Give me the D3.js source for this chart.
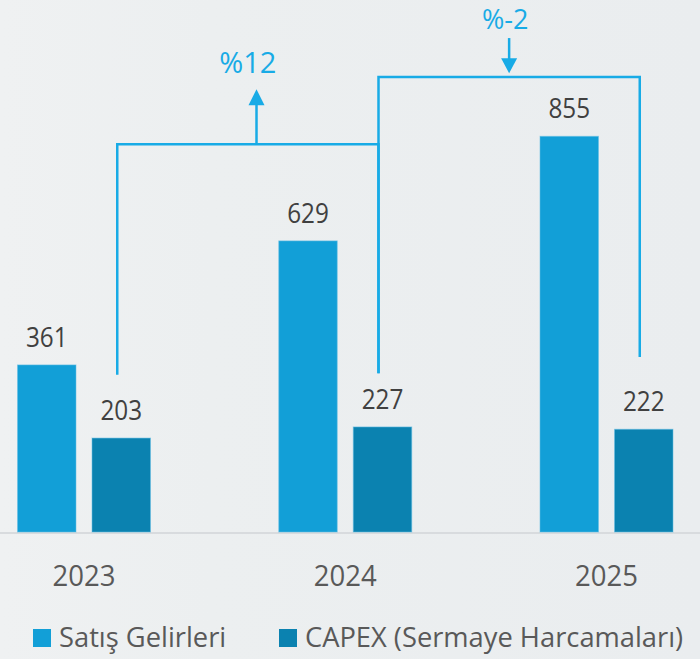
<!DOCTYPE html>
<html>
<head>
<meta charset="utf-8">
<script src="https://cdn.jsdelivr.net/npm/d3@7"></script>
<style>
  html, body { margin: 0; padding: 0; background: #eceff1; }
  svg { display: block; }
  text { font-family: "Segoe UI", "Open Sans", "Noto Sans", sans-serif; }
</style>
</head>
<body>
<svg id="chart" width="700" height="659"></svg>
<script>
// Years on the category axis
const years = ["2023", "2024", "2025"];
// Series
const seriesNames = ["Satış Gelirleri", "CAPEX (Sermaye Harcamaları)"];
const salesRevenue = [361, 629, 855];
const capex = [203, 227, 222];
const seriesColors = ["#129fd7", "#0b82b0"];

// CAPEX growth brackets: from year, to year, bracket top level and foot levels (value units)
const growthFrom = ["2023", "2024"];
const growthTo = ["2024", "2025"];
const growthTop = [838, 983];
const growthFootFrom = [340, 343];
const growthFootTo = [343, 378];
const growthLabels = ["%12", "%-2"];
const growthUp = [true, false];

const W = 700, H = 659;
const svg = d3.select("#chart");

// Background with a faint left-to-right shading
const defs = svg.append("defs");
const bg = defs.append("linearGradient").attr("id", "bg").attr("x1", 0).attr("x2", 1).attr("y1", 0).attr("y2", 0);
bg.append("stop").attr("offset", 0).attr("stop-color", "#eff1f2");
bg.append("stop").attr("offset", 0.3).attr("stop-color", "#eceff0");
bg.append("stop").attr("offset", 1).attr("stop-color", "#eaedef");
svg.append("rect").attr("width", W).attr("height", H).attr("fill", "url(#bg)");

const baseY = 532;
const x = d3.scalePoint().domain(years).range([84, 606.5]);
const inner = d3.scaleBand().domain(seriesNames).range([-66.5, 66.5]).paddingInner(0.215).paddingOuter(0);
const y = d3.scaleLinear().domain([0, 1000]).range([baseY, 69.2]);

const rows = years.map((yr, i) => ({ year: yr, values: [salesRevenue[i], capex[i]] }));

// Baseline
svg.append("line")
  .attr("x1", 0).attr("x2", W)
  .attr("y1", baseY + 1).attr("y2", baseY + 1)
  .attr("stroke", "#d8dbde").attr("stroke-width", 2);

// Bars
const groups = svg.append("g").selectAll("g").data(rows).join("g")
  .attr("transform", d => `translate(${x(d.year)},0)`);

groups.selectAll("rect").data(d => d.values.map((v, k) => ({ v, k }))).join("rect")
  .attr("x", d => inner(seriesNames[d.k]))
  .attr("width", inner.bandwidth())
  .attr("y", d => y(d.v))
  .attr("height", d => y(0) - y(d.v))
  .attr("fill", d => seriesColors[d.k])
  .attr("stroke", "#64bde4")
  .attr("stroke-opacity", 0.55)
  .attr("stroke-width", 1);

// Value labels
groups.selectAll("text.val").data(d => d.values.map((v, k) => ({ v, k }))).join("text")
  .attr("class", "val")
  .attr("transform", d => `translate(${inner(seriesNames[d.k]) + inner.bandwidth() / 2},${y(d.v) - 18}) scale(0.9,1)`)
  .attr("text-anchor", "middle")
  .attr("font-size", 27)
  .attr("fill", "#404040")
  .text(d => d.v);

// Year labels
svg.append("g").selectAll("text").data(years).join("text")
  .attr("transform", d => `translate(${x(d)},586) scale(0.95,1)`)
  .attr("text-anchor", "middle")
  .attr("font-size", 29)
  .attr("fill", "#595959")
  .text(d => d);

// Growth brackets with arrows
const accent = "#18abe6";
const capexX = yr => x(yr) + inner(seriesNames[1]) + inner.bandwidth() / 2 - 4;
const ann = svg.append("g");
growthFrom.forEach((from, i) => {
  const x0 = capexX(from), x1 = capexX(growthTo[i]);
  const top = y(growthTop[i]);
  ann.append("path")
    .attr("d", `M${x0},${y(growthFootFrom[i])}V${top}H${x1}V${y(growthFootTo[i])}`)
    .attr("fill", "none").attr("stroke", accent).attr("stroke-width", 2.5);
  const mid = (x0 + x1) / 2;
  if (growthUp[i]) {
    const ax = x0 + (x1 - x0) * 0.533;
    const tip = top - 55;
    ann.append("line").attr("x1", ax).attr("x2", ax).attr("y1", top).attr("y2", tip + 14)
      .attr("stroke", accent).attr("stroke-width", 2.5);
    ann.append("path").attr("d", `M${ax - 8},${tip + 16}L${ax},${tip}L${ax + 8},${tip + 16}Z`).attr("fill", accent);
    ann.append("text").attr("x", mid).attr("y", tip - 16.5)
      .attr("text-anchor", "middle").attr("font-size", 29).attr("fill", accent)
      .text(growthLabels[i]);
  } else {
    const start = top - 39, tip = top - 3.7;
    ann.append("line").attr("x1", mid).attr("x2", mid).attr("y1", start).attr("y2", tip - 13)
      .attr("stroke", accent).attr("stroke-width", 2.5);
    ann.append("path").attr("d", `M${mid - 8},${tip - 15}L${mid},${tip}L${mid + 8},${tip - 15}Z`).attr("fill", accent);
    ann.append("text").attr("x", mid - 4).attr("y", start - 9)
      .attr("text-anchor", "middle").attr("font-size", 27).attr("fill", accent)
      .text(growthLabels[i]);
  }
});

// Legend
const legendX = [33, 279];
const legend = svg.append("g").selectAll("g").data(seriesNames).join("g")
  .attr("transform", (d, i) => `translate(${legendX[i]},629)`);
legend.append("rect").attr("width", 18).attr("height", 18).attr("fill", (d, i) => seriesColors[i]);
legend.append("text").attr("transform", "translate(26,18.3) scale(0.975,1)")
  .attr("font-size", 28).attr("fill", "#595959")
  .text(d => d);
</script>
</body>
</html>
